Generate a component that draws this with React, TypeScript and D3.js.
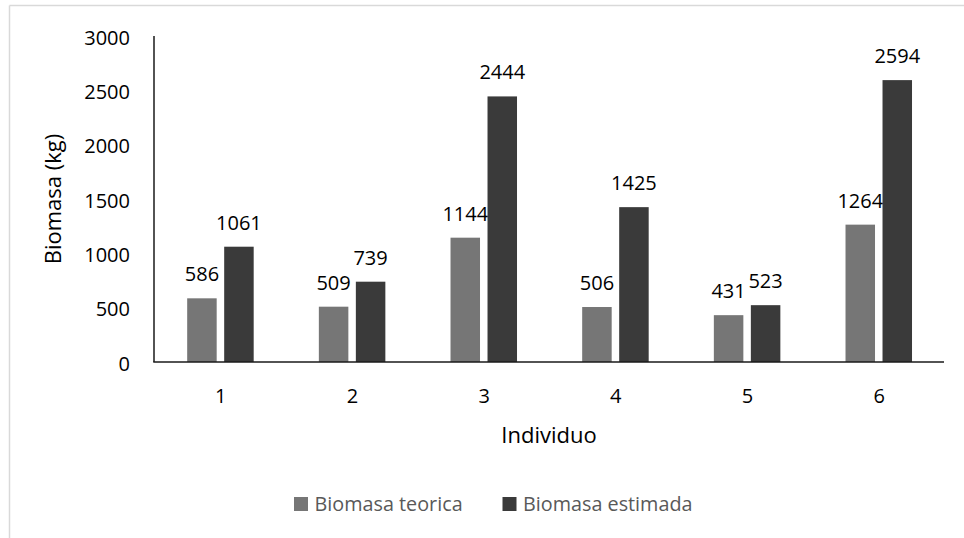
import React from "react";
import * as d3 from "d3";

const categories = ["1", "2", "3", "4", "5", "6"];
const teorica = [586, 509, 1144, 506, 431, 1264];
const estimada = [1061, 739, 2444, 1425, 523, 2594];
const yTicks = [0, 500, 1000, 1500, 2000, 2500, 3000];
const seriesNames = ["Biomasa teorica", "Biomasa estimada"];
const seriesColors = ["#767676", "#3a3a3a"];

const W = 964;
const H = 538;
const left = 154;
const right = 944;
const top = 36;
const bottom = 362;
const FONT = "'Open Sans', 'Noto Sans', sans-serif";

export default function App() {
  const x = d3.scaleBand<string>().domain(categories).range([left, right]);
  const y = d3.scaleLinear().domain([0, 3000]).range([bottom, top]);
  const barW = 29.5;
  const gap = 7.5;
  const series = [teorica, estimada];

  return (
    <svg
      width={W}
      height={H}
      style={{ position: "absolute", left: 0, top: 0, background: "#fff" }}
    >
      <rect x={0} y={0} width={W} height={H} fill="#fff" />
      <line x1={9.5} y1={5.5} x2={W} y2={5.5} stroke="#d9d9d9" strokeWidth={1.5} />
      <line x1={9.5} y1={5.5} x2={9.5} y2={H} stroke="#d9d9d9" strokeWidth={1.5} />

      {series.map((vals, si) =>
        vals.map((v, i) => {
          const c = (x(categories[i]) as number) + x.bandwidth() / 2 + 0.6;
          const bx = si === 0 ? c - gap / 2 - barW : c + gap / 2;
          return (
            <g key={`${si}-${i}`}>
              <rect
                x={bx}
                y={y(v)}
                width={barW}
                height={bottom - y(v)}
                fill={seriesColors[si]}
              />
              <text
                x={bx + barW / 2}
                y={y(v) - 17}
                textAnchor="middle"
                fontFamily={FONT}
                fontSize={20}
                fill="#000"
              >
                {v}
              </text>
            </g>
          );
        })
      )}

      <line x1={left} y1={top} x2={left} y2={bottom} stroke="#1a1a1a" strokeWidth={1.5} />
      <line x1={left - 0.75} y1={bottom} x2={right} y2={bottom} stroke="#1a1a1a" strokeWidth={1.5} />

      {yTicks.map((t) => (
        <text
          key={t}
          x={130}
          y={y(t) + 1}
          textAnchor="end"
          dominantBaseline="central"
          fontFamily={FONT}
          fontSize={20}
          fill="#000"
        >
          {t}
        </text>
      ))}

      {categories.map((c) => (
        <text
          key={c}
          x={(x(c) as number) + x.bandwidth() / 2 + 1}
          y={395}
          textAnchor="middle"
          dominantBaseline="central"
          fontFamily={FONT}
          fontSize={20}
          fill="#000"
        >
          {c}
        </text>
      ))}

      <text
        x={549}
        y={443}
        textAnchor="middle"
        fontFamily={FONT}
        fontSize={22}
        fill="#000"
      >
        Individuo
      </text>

      <text
        transform={`translate(52,${(top + bottom) / 2}) rotate(-90)`}
        textAnchor="middle"
        dominantBaseline="central"
        fontFamily={FONT}
        fontSize={22}
        fill="#000"
      >
        Biomasa (kg)
      </text>

      {seriesNames.map((n, i) => {
        const sx = i === 0 ? 294 : 502.5;
        return (
          <g key={n}>
            <rect x={sx} y={497} width={14} height={14} fill={seriesColors[i]} />
            <text
              x={sx + 20.5}
              y={511}
              fontFamily={FONT}
              fontSize={19.8}
              fill="#595959"
            >
              {n}
            </text>
          </g>
        );
      })}
    </svg>
  );
}
